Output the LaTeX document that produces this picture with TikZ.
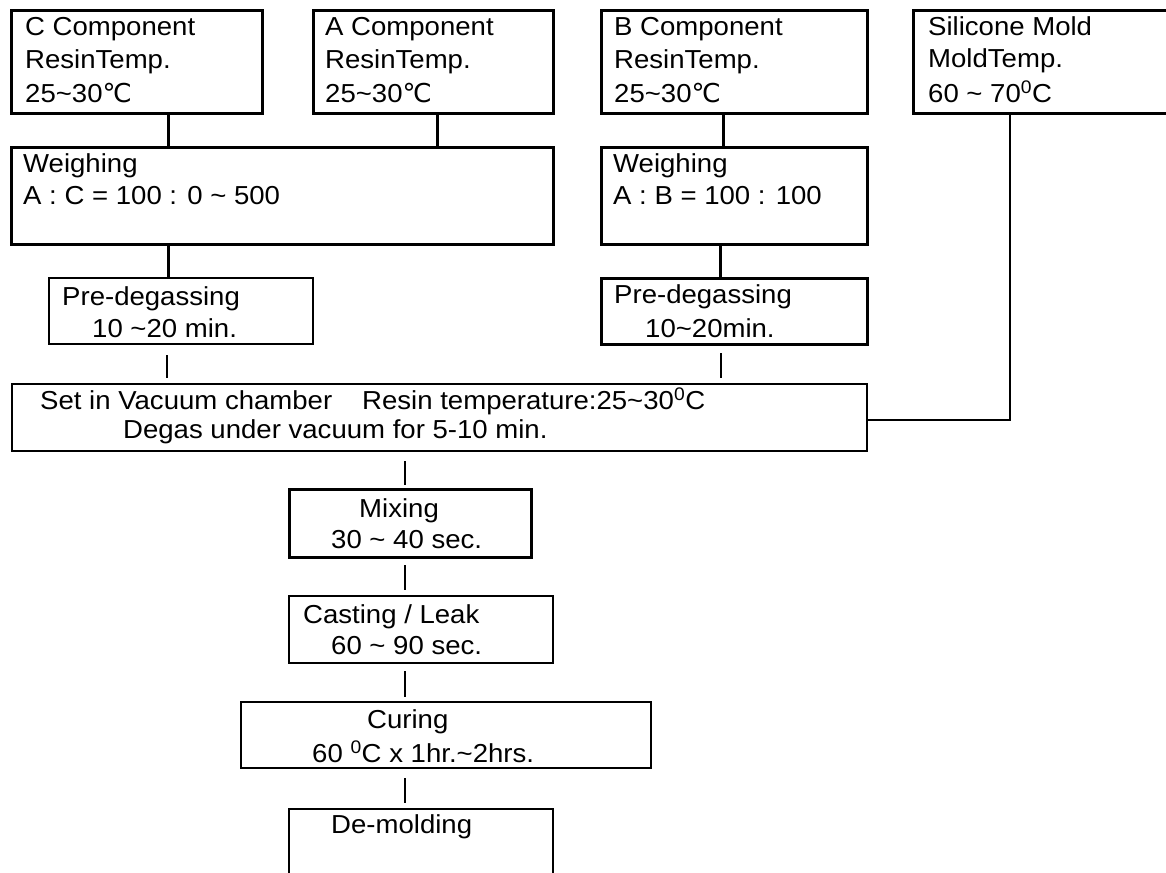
\documentclass[tikz,border=0pt]{standalone}
\usepackage{fontspec}
\setmainfont{Liberation Sans}[FakeStretch=1.06]
\newfontfamily\dejavu{DejaVu Sans}
\newcommand{\tld}{\textasciitilde}
\newcommand{\degsup}{\textsuperscript{0}C}
\newcommand{\celsius}{{\dejavu ℃}}
\begin{document}
\begin{tikzpicture}[x=1bp,y=-1bp,
  box/.style={draw, rectangle, line width=3bp, inner sep=0pt, outer sep=0pt, anchor=north west},
  mbox/.style={box, line width=2.2bp},
  txt/.style={inner sep=0pt, anchor=base west, font=\fontsize{26bp}{30bp}\selectfont},
  thickc/.style={line width=3bp},
  thinc/.style={line width=1.3bp},
  silc/.style={line width=1.6bp}]
\useasboundingbox (0,0) rectangle (1166,873);
% top row
\node[box, minimum width=251bp, minimum height=103bp] (cbox) at (11,10) {};
\node[box, minimum width=240bp, minimum height=103bp] (abox) at (313,10) {};
\node[box, minimum width=266bp, minimum height=103bp] (bbox) at (601,10) {};
\node[box, minimum width=270bp, minimum height=103bp] (sbox) at (913,10) {};
\node[txt] (c1) at (25,35) {C Component};
\node[txt] (c2) at (25,68) {ResinTemp.};
\node[txt] (c3) at (25,102) {25\tld30\celsius};
\node[txt] (a1) at (325,35) {A Component};
\node[txt] (a2) at (325,68) {ResinTemp.};
\node[txt] (a3) at (325,102) {25\tld30\celsius};
\node[txt] (b1) at (614,35) {B Component};
\node[txt] (b2) at (614,68) {ResinTemp.};
\node[txt] (b3) at (614,102) {25\tld30\celsius};
\node[txt] (s1) at (928,35) {Silicone Mold};
\node[txt] (s2) at (928,67) {MoldTemp.};
\node[txt] (s3) at (928,102) {60 \tld{} 70\degsup};
% weighing
\node[box, minimum width=542bp, minimum height=97bp] (w1) at (11,147) {};
\node[box, minimum width=266bp, minimum height=97bp] (w2) at (601,147) {};
\node[txt] (w1a) at (23,172) {Weighing};
\node[txt] (w1b) at (23,204) {A : C = 100 : 0 \tld{} 500};
\node[txt] (w2a) at (613,172) {Weighing};
\node[txt] (w2b) at (613,204) {A : B = 100 : 100};
% pre-degassing
\node[mbox, minimum width=264bp, minimum height=66bp] (p1) at (49,278) {};
\node[box, minimum width=266bp, minimum height=66bp] (p2) at (601,278) {};
\node[txt] (p1a) at (62,305) {Pre-degassing};
\node[txt] (p1b) at (92,337) {10 \tld20 min.};
\node[txt] (p2a) at (614,303) {Pre-degassing};
\node[txt] (p2b) at (645,337) {10\tld20min.};
% vacuum
\node[mbox, minimum width=855bp, minimum height=67bp] (vac) at (12,384) {};
\node[txt] (v1) at (40,409) {Set in Vacuum chamber\hspace{30bp}Resin temperature:25\tld30\degsup};
\node[txt] (v2) at (123,438) {Degas under vacuum for 5-10 min.};
% lower chain
\node[box, minimum width=242bp, minimum height=68bp] (mix) at (289,489) {};
\node[txt] (m1) at (359,517) {Mixing};
\node[txt] (m2) at (331,548) {30 \tld{} 40 sec.};
\node[mbox, minimum width=264bp, minimum height=67bp] (cast) at (289,596) {};
\node[txt] (k1) at (303,623) {Casting / Leak};
\node[txt] (k2) at (331,654) {60 \tld{} 90 sec.};
\node[mbox, minimum width=410bp, minimum height=66bp] (cure) at (241,702) {};
\node[txt] (u1) at (367,728) {Curing};
\node[txt] (u2) at (312,762) {60 \degsup{} x 1hr.\tld2hrs.};
\node[mbox, minimum width=264bp, minimum height=80bp] (demold) at (289,809) {};
\node[txt] (d1) at (331,833) {De-molding};
% connector x positions
\coordinate (xc) at (168,0);
\coordinate (xa) at (437,0);
\coordinate (xb) at (723,0);
\coordinate (xw2) at (720,0);
\coordinate (xl1) at (167,0);
\coordinate (xl2) at (721,0);
\coordinate (xs) at (1010,0);
\coordinate (xm) at (405,0);
\coordinate (ys) at (0,420);
% thick connectors
\draw[thickc] (cbox.south -| xc) -- (w1.north -| xc);
\draw[thickc] (abox.south -| xa) -- (w1.north -| xa);
\draw[thickc] (bbox.south -| xb) -- (w2.north -| xb);
\draw[thickc] (w1.south -| xc) -- (p1.north -| xc);
\draw[thickc] (w2.south -| xw2) -- (p2.north -| xw2);
% thin gapped connectors
\draw[thinc] ([yshift=-11bp]p1.south -| xl1) -- ([yshift=6bp]vac.north -| xl1);
\draw[thinc] ([yshift=-9bp]p2.south -| xl2) -- ([yshift=6bp]vac.north -| xl2);
\draw[thinc] ([yshift=-10bp]vac.south -| xm) -- ([yshift=4bp]mix.north -| xm);
\draw[thinc] ([yshift=-8bp]mix.south -| xm) -- ([yshift=6bp]cast.north -| xm);
\draw[thinc] ([yshift=-8bp]cast.south -| xm) -- ([yshift=5bp]cure.north -| xm);
\draw[thinc] ([yshift=-10bp]cure.south -| xm) -- ([yshift=6bp]demold.north -| xm);
% silicone mold line
\draw[silc] (sbox.south -| xs) -- (xs |- ys) -- (vac.east |- ys);
\end{tikzpicture}
\end{document}
